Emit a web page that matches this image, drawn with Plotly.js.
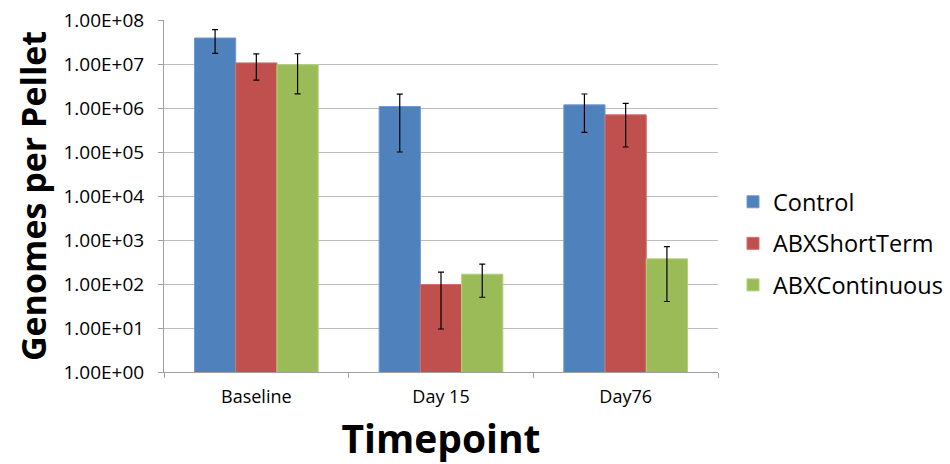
<!DOCTYPE html>
<html>
<head>
<meta charset="utf-8">
<script src="https://cdn.plot.ly/plotly-3.0.1.min.js"></script>
<style>html,body{margin:0;padding:0;background:#fff;}#chart{width:950px;height:464px;}</style>
</head>
<body>
<div id="chart"></div>
<script>
const categories = ["Baseline", "Day 15", "Day76"];
const seriesNames = ["Control", "ABXShortTerm", "ABXContinuous"];
const controlValues = [3.9e7, 1.08e6, 1.18e6];
const controlErrors = [2.15e7, 9.8e5, 9.0e5];
const shortTermValues = [1.06e7, 97.5, 7.0e5];
const shortTermErrors = [6.3e6, 88, 5.7e5];
const continuousValues = [9.6e6, 167, 373];
const continuousErrors = [7.5e6, 117, 333];
const yTickValues = [1, 10, 100, 1e3, 1e4, 1e5, 1e6, 1e7, 1e8];
const yTickLabels = ["1.00E+00", "1.00E+01", "1.00E+02", "1.00E+03", "1.00E+04", "1.00E+05", "1.00E+06", "1.00E+07", "1.00E+08"];

const colors = ["#4f81bd", "#c0504d", "#9bbb59"];
const borders = ["#6f9bd1", "#d4716e", "#b3d27a"];
const values = [controlValues, shortTermValues, continuousValues];
const errors = [controlErrors, shortTermErrors, continuousErrors];
const FONT = "Open Sans, Liberation Sans, sans-serif";

const traces = seriesNames.map((name, i) => ({
  type: "bar",
  name: name,
  x: categories,
  y: values[i],
  legendgroup: "g" + i,
  marker: {color: colors[i], line: {color: borders[i], width: 1}},
  error_y: {type: "data", array: errors[i], visible: true, color: "#000", thickness: 1.2, width: 3}
}));

const layout = {
  width: 950, height: 464,
  margin: {l: 164, r: 232, t: 20, b: 92},
  paper_bgcolor: "#fff", plot_bgcolor: "#fff",
  barmode: "group", bargap: 0.33, bargroupgap: 0,
  font: {family: FONT, color: "#000"},
  xaxis: {
    type: "category",
    showline: true, linecolor: "#a0a0a0", linewidth: 1,
    ticks: "outside", tickson: "boundaries", ticklen: 5, tickcolor: "#a0a0a0",
    tickfont: {family: FONT, size: 18, color: "#000"},
    ticklabelstandoff: 8,
    showgrid: false,
    title: {text: "Timepoint", font: {family: FONT, size: 39, color: "#000", weight: "bold"}, standoff: 20}
  },
  yaxis: {
    type: "log", range: [0, 8],
    tickvals: yTickValues, ticktext: yTickLabels,
    showline: true, linecolor: "#a0a0a0", linewidth: 1,
    ticks: "outside", ticklen: 5, tickcolor: "#a0a0a0",
    tickfont: {family: FONT, size: 19, color: "#000"},
    ticklabelstandoff: 10,
    showgrid: true, gridcolor: "#bdbdbd", gridwidth: 1,
    zeroline: false,
    title: {text: "Genomes per Pellet", font: {family: FONT, size: 34, color: "#000", weight: "bold"}, standoff: 6}
  },
  showlegend: true,
  legend: {
    xref: "container", yref: "container",
    x: 733 / 950, y: 1 - 180 / 464, xanchor: "left", yanchor: "top",
    font: {family: FONT, size: 23.5, color: "#000"},
    traceorder: "grouped", tracegroupgap: 8,
    itemwidth: 30
  }
};

Plotly.newPlot("chart", traces, layout, {displayModeBar: false, staticPlot: true});
</script>
</body>
</html>
